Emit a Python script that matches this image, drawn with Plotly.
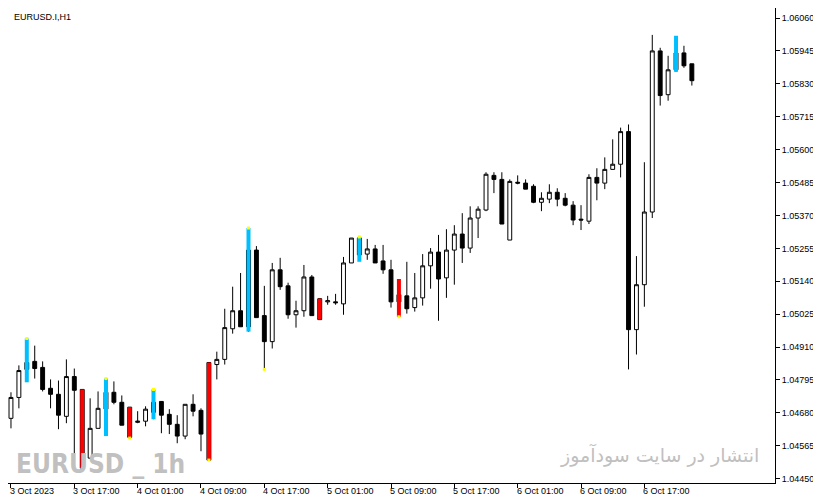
import plotly.graph_objects as go

# prices in points above 1.04000 (1 point = 0.00001)
opens  = [661,734,856,860,839,766,745,668,807,762,522,626,752,752,717,700,647,651,717,720,675,640,599,710,689,856,849,867,974,1037,
          1249,1249,1020,929,1180,1124,1023,1037,1155,1079,1068,1068,1061,1204,1291,1235,1253,1211,1180,1093,1089,1048,1082,1194,1242,1152,1249,1305,1256,1361,
          1389,1510,1496,1284,1486,1483,1472,1416,1427,1451,1430,1406,1357,1350,1503,1483,1531,1549,1663,971,1128,1382,1945,1792,1938,1938,1900]
highs  = [752,846,867,915,860,797,793,867,835,762,731,755,790,790,741,700,686,703,762,720,693,672,710,745,696,856,894,1044,1121,1169,
          1326,1263,1124,1204,1222,1135,1072,1197,1162,1079,1089,1096,1225,1291,1295,1288,1267,1267,1215,1103,1208,1169,1235,1256,1302,1322,1336,1378,1402,1402,
          1521,1521,1521,1496,1510,1496,1479,1451,1479,1465,1448,1420,1406,1514,1535,1573,1636,1677,1688,1228,1556,2001,1956,1928,1938,1963,1900]
lows   = [626,696,825,800,755,696,623,644,505,487,519,626,686,710,637,592,644,633,658,609,606,574,588,668,546,515,797,849,957,981,
          964,1013,832,905,1110,1009,978,1016,1020,1006,1058,1058,1023,1204,1225,1215,1204,1166,1048,1051,1027,1034,1055,1114,1002,1082,1128,1204,1239,1291,
          1385,1448,1340,1284,1479,1462,1413,1385,1413,1402,1402,1336,1319,1340,1423,1462,1531,1503,832,884,1051,1361,1754,1771,1872,1886,1824]
closes = [734,828,832,835,762,745,672,807,759,487,626,696,693,717,637,595,651,693,682,672,640,599,710,686,606,515,867,978,1037,981,
          981,1013,929,1180,1121,1023,1037,1155,1020,1006,1072,1065,1204,1291,1232,1253,1204,1180,1068,1068,1044,1082,1194,1242,1148,1249,1305,1256,1361,1392,
          1514,1496,1340,1489,1483,1462,1416,1430,1451,1427,1406,1354,1354,1503,1483,1531,1549,1663,971,1128,1382,1945,1789,1879,1879,1893,1841]

blue_idx = [2, 12, 18, 30, 44, 84]
blue_top = [940, 800, 762, 1326, 1295, 1998]
blue_bot = [787, 599, 658, 964, 1208, 1872]
red_idx = [9, 15, 25, 39, 49]
red_top = [762, 700, 856, 1079, 1148]
red_bot = [487, 592, 515, 1006, 1016]
dot_idx = [2, 12, 18, 30, 44, 15, 25, 49, 32]
dot_val = [940, 800, 762, 1326, 1295, 592, 515, 1016, 832]

tick_idx = [0, 8, 16, 24, 32, 40, 48, 56, 64, 72, 80]
tick_text = ["3 Oct 2023", "3 Oct 17:00", "4 Oct 01:00", "4 Oct 09:00", "4 Oct 17:00", "5 Oct 01:00",
             "5 Oct 09:00", "5 Oct 17:00", "6 Oct 01:00", "6 Oct 09:00", "6 Oct 17:00"]
ytick_vals = [1.04450, 1.04565, 1.04680, 1.04795, 1.04910, 1.05025, 1.05140, 1.05255, 1.05370,
              1.05485, 1.05600, 1.05715, 1.05830, 1.05945, 1.06060]

P = lambda a: [1.04 + v / 1e5 for v in a]
x = list(range(len(opens)))

def segs(idx, top, bot):
    xs, ys = [], []
    for i, t, b in zip(idx, top, bot):
        xs += [i, i, None]
        ys += [1.04 + t / 1e5, 1.04 + b / 1e5, None]
    return xs, ys

fig = go.Figure()
fig.add_trace(go.Candlestick(
    x=x, open=P(opens), high=P(highs), low=P(lows), close=P(closes),
    increasing=dict(line=dict(color="black", width=1), fillcolor="white"),
    decreasing=dict(line=dict(color="black", width=1), fillcolor="black"),
    whiskerwidth=0, showlegend=False, hoverinfo="skip"))
bx, by = segs(blue_idx, blue_top, blue_bot)
fig.add_trace(go.Scatter(x=bx, y=by, mode="lines", line=dict(color="#00BFFF", width=4), showlegend=False))
rx, ry = segs(red_idx, red_top, red_bot)
fig.add_trace(go.Scatter(x=rx, y=ry, mode="lines", line=dict(color="#FF0000", width=4), showlegend=False))
fig.add_trace(go.Scatter(x=dot_idx, y=P(dot_val), mode="markers",
                         marker=dict(color="#FFFF00", size=3, symbol="square"), showlegend=False))

fig.update_layout(
    width=821, height=495, margin=dict(l=0, r=54, t=0, b=20),
    paper_bgcolor="white", plot_bgcolor="white",
    font=dict(family="Liberation Sans", size=9, color="black"),
    xaxis=dict(range=[-0.375, 96.5], rangeslider=dict(visible=False), showgrid=False,
               tickmode="array", tickvals=tick_idx, ticktext=[""] * len(tick_idx), ticks="outside",
               ticklen=4, tickcolor="black", showline=True, linecolor="black", mirror=True, zeroline=False),
    yaxis=dict(range=[1.04435, 1.06095], side="right", showgrid=False, tickmode="array",
               tickvals=ytick_vals, ticktext=[f"{v:.5f}" for v in ytick_vals], ticks="outside",
               ticklen=4, tickcolor="black", showline=True, linecolor="black", mirror=True, zeroline=False),
)
for i, t in zip(tick_idx, tick_text):
    fig.add_annotation(text=t, x=i, xref="x", y=0, yref="paper", xanchor="left", yanchor="top",
                       xshift=-3, yshift=-1, showarrow=False, font=dict(size=9))
fig.add_annotation(text="EURUSD.I,H1", xref="paper", yref="paper", x=0.005, y=0.995,
                   xanchor="left", yanchor="top", showarrow=False, font=dict(size=9))
fig.add_annotation(text="<b>EURUSD _ 1h</b>", xref="paper", yref="paper", x=0.008, y=0.005,
                   xanchor="left", yanchor="bottom", showarrow=False,
                   font=dict(size=26, color="#C0C0C0", family="DejaVu Sans Condensed, Liberation Sans"))
fig.add_annotation(text="انتشار در سایت سودآموز", xref="paper", yref="paper", x=0.982, y=0.03,
                   xanchor="right", yanchor="bottom", showarrow=False,
                   font=dict(size=19, color="#C0C0C0", family="DejaVu Sans"))
fig.write_html("out.html")
